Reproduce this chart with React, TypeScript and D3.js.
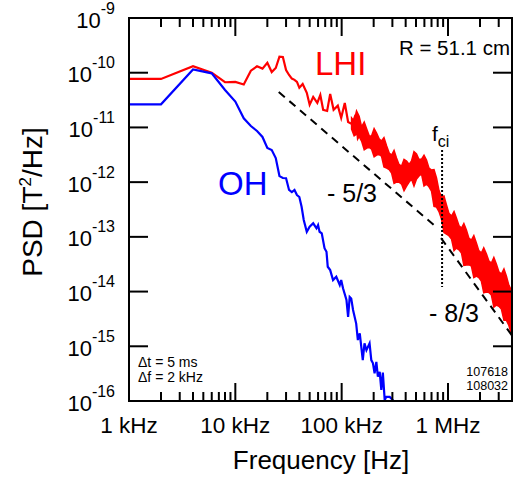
import React from 'react';
import * as d3 from 'd3';

const W = 526;
const H = 480;
const X0 = 129;
const X1 = 512;
const Y0 = 18;
const Y1 = 401;
const FONT = '"Liberation Sans", Arial, Helvetica, sans-serif';

const xDomain: [number, number] = [1e3, 4e6];
const yDomain: [number, number] = [1e-16, 1e-9];
const xTickValues = [1e3, 1e4, 1e5, 1e6];
const xTickLabels = ['1 kHz', '10 kHz', '100 kHz', '1 MHz'];
const yTickExponents = [-16, -15, -14, -13, -12, -11, -10, -9];

// LHI spectrum (red), frequency [Hz], PSD [T^2/Hz]
const lhiSpectrum: [number, number][] = [
  [1e3, 7.7e-11], [2e3, 7.7e-11], [4e3, 1.32e-10], [6e3, 1.0e-10], [8e3, 6.7e-11],
  [10e3, 6.8e-11], [12e3, 6.1e-11], [14e3, 1.09e-10], [16e3, 1.31e-10], [18e3, 1.19e-10],
  [20e3, 1.52e-10], [22e3, 1.03e-10], [24e3, 1.22e-10], [26e3, 1.96e-10], [28e3, 1.94e-10],
  [30e3, 1.12e-10], [32e3, 9.1e-11], [34e3, 7.8e-11], [36e3, 7.4e-11], [38e3, 6.8e-11],
  [40e3, 5.3e-11], [43e3, 6.2e-11], [47e3, 4.3e-11], [50e3, 2.6e-11], [54e3, 3.6e-11],
  [59e3, 2.8e-11], [63e3, 3.9e-11], [67e3, 2.1e-11], [73e3, 2.0e-11], [78e3, 4.1e-11],
  [84e3, 2.1e-11], [92e3, 2.5e-11], [99e3, 1.5e-11], [107e3, 2.8e-11], [115e3, 1.26e-11],
  [126e3, 1.15e-11], [135e3, 1.7e-11], [142e3, 6.4e-12], [153e3, 8.2e-12], [171e3, 5.9e-12],
  [183e3, 6.4e-12], [197e3, 4.8e-12], [212e3, 5.9e-12], [228e3, 4.2e-12],
];

// LHI high-frequency noise band: upper / lower envelope
const lhiBandFreq = [
  124e3, 131e3, 138e3, 146e3, 154e3, 163e3, 172e3, 182e3, 191e3, 202e3, 213e3, 225e3,
  237e3, 250e3, 265e3, 280e3, 295e3, 311e3, 328e3, 346e3, 366e3, 386e3, 408e3, 431e3,
  454e3, 479e3, 506e3, 534e3, 564e3, 595e3, 628e3, 663e3, 700e3, 739e3, 780e3, 823e3,
  869e3, 917e3, 968e3, 1.02e6, 1.08e6, 1.14e6, 1.2e6, 1.27e6, 1.34e6, 1.41e6, 1.49e6,
  1.57e6, 1.66e6, 1.75e6, 1.85e6, 1.95e6, 2.06e6, 2.17e6, 2.3e6, 2.43e6, 2.56e6, 2.7e6,
  2.85e6, 3.01e6, 3.18e6, 3.36e6, 3.54e6, 3.74e6, 3.95e6,
];
const lhiBandUpper = [
  1.49e-11, 1.3e-11, 2.0e-11, 1.6e-11, 1.02e-11, 1.25e-11, 9.35e-12, 7.0e-12, 6.97e-12,
  9.5e-12, 7.91e-12, 6.2e-12, 5.64e-12, 6.5e-12, 4.57e-12, 3.4e-12, 3.13e-12, 3.8e-12,
  2.76e-12, 2.1e-12, 1.97e-12, 2.6e-12, 2.43e-12, 2.1e-12, 2.43e-12, 3.6e-12, 3.27e-12,
  2.6e-12, 2.64e-12, 3.1e-12, 2.54e-12, 1.8e-12, 1.66e-12, 1.7e-12, 1.19e-12, 7.0e-13,
  5.35e-13, 5.6e-13, 3.81e-13, 2.7e-13, 2.4e-13, 2.9e-13, 2.21e-13, 1.6e-13, 1.45e-13,
  1.75e-13, 1.33e-13, 9.5e-14, 8.73e-14, 1.05e-13, 7.71e-14, 5.6e-14, 5.06e-14, 6.3e-14,
  4.85e-14, 3.6e-14, 3.32e-14, 4.2e-14, 3.18e-14, 2.3e-14, 2.09e-14, 2.6e-14, 1.92e-14,
  1.3e-14, 1.06e-14,
];
const lhiBandLower = [
  9.35e-12, 7.0e-12, 7.57e-12, 6.8e-12, 5.64e-12, 3.9e-12, 4.2e-12, 4.3e-12, 4.03e-12,
  2.9e-12, 3.13e-12, 3.2e-12, 3.0e-12, 1.9e-12, 1.81e-12, 1.7e-12, 1.47e-12, 9.5e-13,
  1.0e-12, 1.0e-12, 9.23e-13, 7.0e-13, 8.49e-13, 1.0e-12, 1.14e-12, 8.5e-13, 1.14e-12,
  1.3e-12, 1.41e-12, 8.5e-13, 9.23e-13, 8.2e-13, 6.87e-13, 3.6e-13, 3.51e-13, 2.9e-13,
  2.11e-13, 1.2e-13, 1.12e-13, 1.05e-13, 9.12e-14, 5.6e-14, 6.24e-14, 5.8e-14, 5.06e-14,
  3.0e-14, 3.05e-14, 3.1e-14, 2.92e-14, 1.8e-14, 1.92e-14, 1.8e-14, 1.56e-14, 9.5e-15,
  9.8e-15, 9.6e-15, 8.63e-15, 5.2e-15, 5.66e-15, 5.4e-15, 4.79e-15, 3.0e-15, 3.01e-15,
  2.4e-15, 1.67e-15,
];

// OH spectrum (blue)
const ohSpectrum: [number, number][] = [
  [1e3, 2.64e-11], [2e3, 2.64e-11], [4e3, 1.15e-10], [6e3, 9.75e-11], [8e3, 4.83e-11],
  [10e3, 2.97e-11], [12e3, 1.47e-11], [14e3, 1.06e-11], [16e3, 8.6e-12], [18e3, 6.7e-12],
  [20e3, 4.2e-12], [22e3, 3.86e-12], [24e3, 2.76e-12], [26e3, 1.29e-12], [28e3, 1.19e-12],
  [30e3, 1.18e-12], [32e3, 7.2e-13], [34e3, 6.6e-13], [36e3, 7.2e-13], [38e3, 5.8e-13],
  [40e3, 5.35e-13], [42e3, 3.55e-13], [44e3, 2.03e-13], [47e3, 1.24e-13], [50e3, 1.53e-13],
  [54e3, 1.77e-13], [58e3, 1.43e-13], [60e3, 1.64e-13], [62e3, 1.24e-13], [65e3, 1.16e-13],
  [69e3, 6.2e-14], [72e3, 5.35e-14], [74e3, 2.84e-14], [78e3, 2.47e-14], [83e3, 1.62e-14],
  [89e3, 1.87e-14], [96e3, 1.32e-14], [99e3, 1.62e-14], [103e3, 1.15e-14], [111e3, 7.0e-15],
  [115e3, 3.46e-15], [119e3, 8.0e-15], [123e3, 7.5e-15], [128e3, 4.6e-15], [137e3, 2.6e-15],
  [142e3, 1.3e-15], [148e3, 1.72e-15], [158e3, 5.6e-16], [164e3, 1.13e-15], [171e3, 8.5e-16],
  [183e3, 1.13e-15], [190e3, 5.6e-16], [197e3, 4.9e-16], [204e3, 3.2e-16], [212e3, 5.2e-16],
  [219e3, 2.8e-16], [228e3, 3.4e-16], [236e3, 1.6e-16], [244e3, 3.3e-16], [254e3, 1.04e-16],
  [263e3, 1.19e-16], [283e3, 1.19e-16], [303e3, 1.04e-16], [320e3, 8e-17],
];

// power-law reference lines
const slopeLines = [
  { f0: 25.6e3, p0: 4.44e-11, f1: 780e3, slope: -5 / 3 },
  { f0: 860e3, p0: 9.5e-14, f1: 4e6, slope: -8 / 3 },
];
const fci = 880e3;
const fciRange = [1.21e-14, 3.86e-12];

export default function App() {
  const x = d3.scaleLog().domain(xDomain).range([X0, X1]);
  const y = d3.scaleLog().domain(yDomain).range([Y1, Y0]);

  const line = d3
    .line<[number, number]>()
    .x((d) => x(d[0]))
    .y((d) => y(d[1]));

  const bandData = lhiBandFreq.map((f, i) => ({ f, up: lhiBandUpper[i], lo: lhiBandLower[i] }));
  const area = d3
    .area<{ f: number; up: number; lo: number }>()
    .x((d) => x(d.f))
    .y0((d) => y(d.lo))
    .y1((d) => y(d.up));

  const minorTicks: number[] = [];
  for (let e = 3; e <= 6; e++) {
    for (let m = 2; m <= 9; m++) {
      const v = m * Math.pow(10, e);
      if (v < xDomain[1]) minorTicks.push(v);
    }
  }
  const majorX = [1e4, 1e5, 1e6];

  return (
    <svg
      width={W}
      height={H}
      style={{ position: 'absolute', left: 0, top: 0, background: '#fff' }}
      fontFamily={FONT}
    >
      <defs>
        <clipPath id="plot">
          <rect x={X0} y={Y0} width={X1 - X0} height={Y1 - Y0} />
        </clipPath>
      </defs>
      <g clipPath="url(#plot)">
        <path d={area(bandData) || ''} fill="#ff0000" stroke="#ff0000" strokeWidth={1.5} strokeLinejoin="miter" />
        <path d={line(lhiSpectrum) || ''} fill="none" stroke="#ff0000" strokeWidth={2.2} />
        <path d={line(ohSpectrum) || ''} fill="none" stroke="#0000ff" strokeWidth={2.2} />
        {slopeLines.map((s, i) => {
          const p1 = s.p0 * Math.pow(s.f1 / s.f0, s.slope);
          return (
            <line
              key={i}
              x1={x(s.f0)}
              y1={y(s.p0)}
              x2={x(s.f1)}
              y2={y(p1)}
              stroke="#000"
              strokeWidth={2}
              strokeDasharray="8,6"
            />
          );
        })}
        <line
          x1={x(fci)}
          x2={x(fci)}
          y1={y(fciRange[1])}
          y2={y(fciRange[0])}
          stroke="#000"
          strokeWidth={2}
          strokeDasharray="2,2"
        />
      </g>

      {/* frame */}
      <rect x={X0} y={Y0} width={X1 - X0} height={Y1 - Y0} fill="none" stroke="#000" strokeWidth={2} />

      {/* y ticks */}
      {yTickExponents.map((e) => {
        const yy = y(Math.pow(10, e));
        return (
          <g key={e}>
            <line x1={X0} x2={X0 + 19} y1={yy} y2={yy} stroke="#000" strokeWidth={2} />
            <line x1={X1} x2={X1 - 19} y1={yy} y2={yy} stroke="#000" strokeWidth={2} />
            <text x={115} y={yy + 9.5} textAnchor="end" fontSize={22}>
              <tspan>10</tspan>
              <tspan dy={-14} fontSize={16}>{`-${-e}`}</tspan>
            </text>
          </g>
        );
      })}

      {/* x ticks */}
      {majorX.map((v) => (
        <g key={v}>
          <line x1={x(v)} x2={x(v)} y1={Y1} y2={Y1 - 18} stroke="#000" strokeWidth={2} />
          <line x1={x(v)} x2={x(v)} y1={Y0} y2={Y0 + 18} stroke="#000" strokeWidth={2} />
        </g>
      ))}
      {minorTicks.map((v) => (
        <g key={v}>
          <line x1={x(v)} x2={x(v)} y1={Y1} y2={Y1 - 9} stroke="#000" strokeWidth={2} />
          <line x1={x(v)} x2={x(v)} y1={Y0} y2={Y0 + 9} stroke="#000" strokeWidth={2} />
        </g>
      ))}
      {xTickValues.map((v, i) => (
        <text key={v} x={x(v)} y={433} textAnchor="middle" fontSize={22.5}>
          {xTickLabels[i]}
        </text>
      ))}

      {/* axis titles */}
      <text x={321} y={469} textAnchor="middle" fontSize={26}>
        Frequency [Hz]
      </text>
      <text transform="translate(42,202) rotate(-90)" textAnchor="middle" fontSize={28}>
        <tspan>PSD [T</tspan>
        <tspan dy={-11} fontSize={17}>2</tspan>
        <tspan dy={11}>/Hz]</tspan>
      </text>

      {/* annotations */}
      <text x={510} y={55} textAnchor="end" fontSize={20.5}>
        R = 51.1 cm
      </text>
      <text x={315} y={75} fontSize={33} fill="#ff0000">
        LHI
      </text>
      <text x={218} y={195} fontSize={33} fill="#0000ff">
        OH
      </text>
      <text x={327} y={202} fontSize={25}>
        - 5/3
      </text>
      <text x={429} y={322} fontSize={25}>
        - 8/3
      </text>
      <text x={432} y={141} fontSize={21}>
        <tspan>f</tspan>
        <tspan dy={6} fontSize={16}>ci</tspan>
      </text>
      <text x={138} y={367} fontSize={14}>
        Δt = 5 ms
      </text>
      <text x={138} y={382} fontSize={14}>
        Δf = 2 kHz
      </text>
      <text x={508} y={376} textAnchor="end" fontSize={12.5}>
        107618
      </text>
      <text x={508} y={389.5} textAnchor="end" fontSize={12.5}>
        108032
      </text>
    </svg>
  );
}
